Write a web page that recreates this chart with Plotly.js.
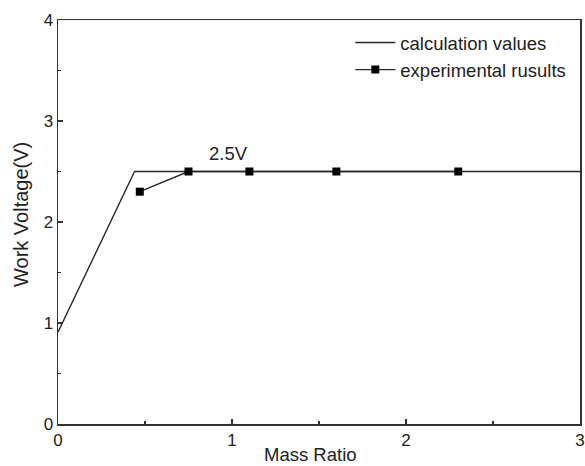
<!DOCTYPE html>
<html><head><meta charset="utf-8">
<script src="https://cdn.plot.ly/plotly-3.0.1.min.js"></script>
<style>body{margin:0;background:#fff}</style>
</head><body>
<div id="chart" style="width:585px;height:466px"></div>
<script>
var calcX = [0, 0.44, 3];
var calcY = [0.91, 2.5, 2.5];
var expX = [0.47, 0.75, 1.1, 1.6, 2.3];
var expY = [2.3, 2.5, 2.5, 2.5, 2.5];
var xTicks = [0, 1, 2, 3];
var yTicks = [0, 1, 2, 3, 4];

var fam = 'Liberation Sans, Arial, sans-serif';
var lineCol = '#2a2a2a';
var traces = [
  {x: calcX, y: calcY, mode: 'lines', name: 'calculation values',
   line: {color: lineCol, width: 1.4}},
  {x: expX, y: expY, mode: 'lines+markers', name: 'experimental rusults',
   line: {color: lineCol, width: 1.4},
   marker: {symbol: 'square', size: 8, color: '#000'}}
];
var axisCommon = {
  showgrid: false, zeroline: false, showline: true, linecolor: '#333', linewidth: 1.5,
  mirror: true, ticks: 'inside', ticklen: 5, tickcolor: '#333', tickwidth: 1.2,
  ticklabeloverflow: 'allow',
  tickfont: {family: fam, size: 17, color: '#222'},
  minor: {ticks: 'inside', ticklen: 3, tickcolor: '#333', dtick: 0.5}
};
var pw = 585 - 58 - 5, ph = 466 - 20 - 42;
function px(x) { return (x - 58) / pw; }
function py(y) { return (466 - 42 - y) / ph; }
var layout = {
  width: 585, height: 466,
  margin: {l: 58, r: 5, t: 20, b: 42},
  paper_bgcolor: '#fff', plot_bgcolor: '#fff',
  showlegend: true,
  legend: {x: 0.56, y: 0.99, xanchor: 'left', yanchor: 'top', bgcolor: 'rgba(0,0,0,0)',
    font: {family: fam, size: 18.5, color: '#222'},
    tracegroupgap: 0, itemwidth: 40},
  xaxis: Object.assign({}, axisCommon, {range: [0, 3], tickvals: xTicks}),
  yaxis: Object.assign({}, axisCommon, {range: [0, 4], tickvals: yTicks}),
  annotations: [
    {x: 0.98, y: 2.68, xref: 'x', yref: 'y', text: '2.5V', showarrow: false,
     font: {family: fam, size: 18.5, color: '#222'}},
    {x: px(310), y: py(454), xref: 'paper', yref: 'paper', text: 'Mass Ratio', showarrow: false,
     xanchor: 'center', yanchor: 'middle', font: {family: fam, size: 18.5, color: '#222'}},
    {x: px(21), y: py(215), xref: 'paper', yref: 'paper', text: 'Work Voltage(V)', showarrow: false,
     textangle: -90, xanchor: 'center', yanchor: 'middle', font: {family: fam, size: 20, color: '#222'}}
  ]
};
Plotly.newPlot('chart', traces, layout, {displayModeBar: false, staticPlot: true});
</script>
</body></html>
